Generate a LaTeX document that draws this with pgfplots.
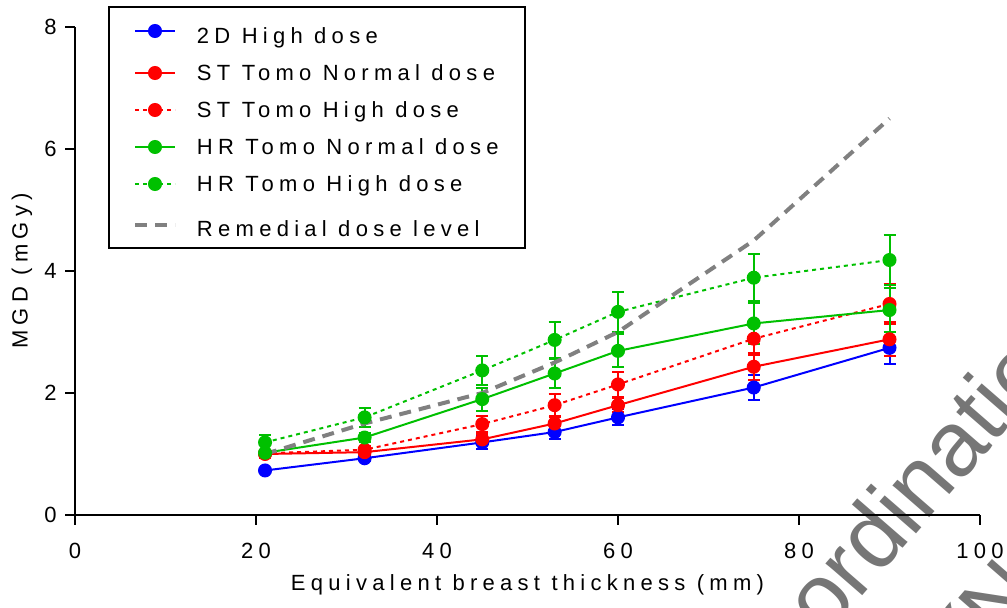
\documentclass[border=0pt]{standalone}
\usepackage{fontspec}
\setmainfont[LetterSpace=24]{Liberation Sans}
\newfontfamily\wmfont{Liberation Sans}
\usepackage{pgfplots}
\usepackage{pgfplotstable}
\pgfplotsset{compat=1.18}
\definecolor{cblue}{RGB}{0,0,255}
\definecolor{cred}{RGB}{255,0,0}
\definecolor{cgreen}{RGB}{0,192,0}
\definecolor{cgray}{RGB}{128,128,128}
\definecolor{wmgray}{RGB}{118,118,118}

\pgfplotstableread{
x y e
21 0.73 0.04
32 0.93 0.05
45 1.19 0.11
53 1.36 0.11
60 1.60 0.13
75 2.09 0.21
90 2.74 0.26
}\twoD
\pgfplotstableread{
x y e
21 1.00 0.06
32 1.03 0.06
45 1.24 0.08
53 1.50 0.10
60 1.80 0.11
75 2.43 0.22
90 2.88 0.28
}\stNormal
\pgfplotstableread{
x y e
21 1.01 0.05
32 1.07 0.06
45 1.49 0.13
53 1.80 0.18
60 2.14 0.20
75 2.89 0.27
90 3.46 0.33
}\stHigh
\pgfplotstableread{
x y e
21 1.02 0.05
32 1.27 0.08
45 1.90 0.19
53 2.32 0.24
60 2.69 0.27
75 3.14 0.34
90 3.36 0.36
}\hrNormal
\pgfplotstableread{
x y e
21 1.19 0.12
32 1.60 0.15
45 2.37 0.24
53 2.87 0.29
60 3.33 0.33
75 3.89 0.39
90 4.18 0.41
}\hrHigh
\pgfplotstableread{
x y
21 1.0
32 1.5
45 2.0
53 2.5
60 3.0
75 4.5
90 6.5
}\remedial

\begin{document}
\begin{tikzpicture}[font=\fontsize{11}{13}\selectfont]
\useasboundingbox (-37.5pt,-46.5pt) rectangle (466pt,257.5pt);
\clip (-37.5pt,-46.5pt) rectangle (466pt,257.5pt);
\node[anchor=base west, rotate=49, text=wmgray, font=\wmfont\fontsize{46}{55}\selectfont, inner sep=0pt] at (375pt,-62pt) {\llap{Co}ordination};
\node[anchor=base west, rotate=49, text=wmgray, font=\wmfont\fontsize{46}{55}\selectfont, inner sep=0pt] at (453pt,-77pt) {(N};
\begin{axis}[
  at={(0pt,0pt)}, anchor=origin,
  scale only axis, width=452.5pt, height=244pt,
  xmin=0, xmax=100, ymin=0, ymax=8,
  axis lines=left,
  axis line style={-, line width=1pt, black},
  tick style={black, line width=1pt},
  tick align=outside,
  major tick length=5pt,
  xtick={0,20,...,100}, ytick={0,2,...,8},
  /pgf/number format/assume math mode=true,
  ticklabel style={font=\fontsize{11}{13}\selectfont},
  xticklabel style={anchor=north, inner sep=0pt, yshift=-9pt},
  yticklabel style={anchor=east, inner sep=0pt, xshift=-4pt},
  xlabel={Equivalent breast thickness (mm)},
  ylabel={MGD (mGy)},
  label style={font=\fontsize{11}{13}\selectfont},
  xlabel style={at={(axis description cs:0.5,0)}, anchor=center, yshift=-35pt},
  ylabel style={at={(axis description cs:-0.0586,0.5)}, anchor=center},
  clip=false,
  legend style={at={(rel axis cs:0,1)}, anchor=north west, xshift=16.5pt, yshift=10.5pt,
    draw=black, line width=1pt, inner xsep=12pt, inner ysep=4pt, row sep=7.5pt,
    nodes={text height=8pt, text depth=1pt, inner sep=1pt},
    font=\fontsize{11}{13}\selectfont},
  legend cell align=left,
  /tikz/every odd column/.append style={column sep=9pt},
  legend image code/.code={\draw[mark repeat=2, mark phase=2, #1] plot coordinates {(0pt,0pt) (10pt,0pt) (20pt,0pt)};},
  every axis plot/.append style={line width=1pt},
  error bars/error bar style={line width=1pt, solid},
  error bars/error mark options={line width=1pt, mark size=3pt, solid, rotate=90},
]
\addplot[cblue, mark=*, mark size=3pt, mark options={solid}, error bars/.cd, y dir=both, y explicit]
  table[x=x, y=y, y error=e] {\twoD};
\addlegendentry[text height=13pt]{2D High dose}
\addplot[cred, mark=*, mark size=3pt, mark options={solid}, error bars/.cd, y dir=both, y explicit]
  table[x=x, y=y, y error=e] {\stNormal};
\addlegendentry{ST Tomo Normal dose}
\addplot[cred, dash pattern=on 2pt off 2pt, mark=*, mark size=3pt, mark options={solid}, error bars/.cd, y dir=both, y explicit]
  table[x=x, y=y, y error=e] {\stHigh};
\addlegendentry{ST Tomo High dose}
\addplot[cgreen, mark=*, mark size=3pt, mark options={solid}, error bars/.cd, y dir=both, y explicit]
  table[x=x, y=y, y error=e] {\hrNormal};
\addlegendentry{HR Tomo Normal dose}
\addplot[cgreen, dash pattern=on 2pt off 2pt, mark=*, mark size=3pt, mark options={solid}, error bars/.cd, y dir=both, y explicit]
  table[x=x, y=y, y error=e] {\hrHigh};
\addlegendentry{HR Tomo High dose}
\addplot[cgray, line width=2pt, dash pattern=on 6pt off 4pt, no marks]
  table[x=x, y=y] {\remedial};
\addlegendentry[text height=12pt]{Remedial dose level}
\end{axis}
\end{tikzpicture}
\end{document}
